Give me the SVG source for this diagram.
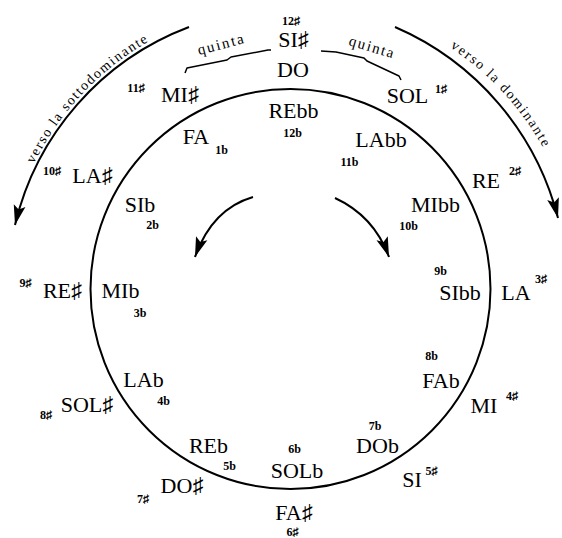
<svg xmlns="http://www.w3.org/2000/svg" width="562" height="538" viewBox="0 0 562 538">
<style>
text{font-family:"Liberation Serif","DejaVu Serif",serif;fill:#000}
.n{font-size:22px;text-anchor:middle}
.s{font-size:12px;font-weight:bold;text-anchor:middle}
.q{font-size:14px}
.qq{font-size:15px}
.line{fill:none;stroke:#000;stroke-width:2}
.br{fill:none;stroke:#000;stroke-width:1.5;stroke-linejoin:round}
</style>
<defs>
<marker id="ah" markerWidth="22" markerHeight="14" refX="20" refY="7" orient="auto" markerUnits="userSpaceOnUse">
<path d="M0,1 L20,7 L0,13 L4,7 Z" fill="#000"/>
</marker>
<path id="tpL" d="M33.8,164.1 A285,285 0 0 1 149.7,40.9"/>
<path id="tpR" d="M450,47.2 A290,290 0 0 1 543.6,148.4"/>
</defs>
<rect width="562" height="538" fill="#fff"/>
<g id="circle"><circle cx="290.5" cy="289" r="200" class="line"/></g>
<g id="connectors">
<path class="line" d="M189,27 A281,281 0 0 0 15,225" marker-end="url(#ah)"/>
<path class="line" d="M395,27 A285,285 0 0 1 558,218" marker-end="url(#ah)"/>
<path class="line" d="M253,197 Q212,209 195,257" marker-end="url(#ah)"/>
<path class="line" d="M335,198 Q374,216 389,257" marker-end="url(#ah)"/>
<path class="br" d="M185,73 L187,68 L227,60 L231,57 L268,50 L271,50"/>
<path class="br" d="M321,51 L336,52 L364,58 L367,61 L399,76 L401,80"/>
</g>
<g id="labels">
<text class="q"><textPath href="#tpL" textLength="170" lengthAdjust="spacing">verso la sottodominante</textPath></text>
<text class="q"><textPath href="#tpR" textLength="138" lengthAdjust="spacing">verso la dominante</textPath></text>
<text class="qq" transform="translate(199,55) rotate(-14.6)" textLength="47" lengthAdjust="spacing">quinta</text>
<text class="qq" transform="translate(348,45) rotate(16.5)" textLength="46" lengthAdjust="spacing">quinta</text>
</g>
<g id="n-SIs-DO"><text class="s" x="291" y="25">12♯</text><text class="n" x="293.5" y="47">SI♯</text><text class="n" x="293" y="77">DO</text></g>
<g id="n-REbb"><text class="n" x="293.5" y="118">REbb</text><text class="s" x="292.5" y="137">12b</text></g>
<g id="n-MIs"><text class="s" x="136" y="92">11♯</text><text class="n" x="180" y="102">MI♯</text></g>
<g id="n-FA"><text class="n" x="196" y="144">FA</text><text class="s" x="221.5" y="154">1b</text></g>
<g id="n-SOL"><text class="n" x="407.5" y="103">SOL</text><text class="s" x="441" y="93">1♯</text></g>
<g id="n-LAbb"><text class="n" x="381" y="147">LAbb</text><text class="s" x="349.5" y="166">11b</text></g>
<g id="n-LAs"><text class="s" x="52" y="175">10♯</text><text class="n" x="92.5" y="183">LA♯</text></g>
<g id="n-RE"><text class="n" x="486" y="188">RE</text><text class="s" x="515" y="175">2♯</text></g>
<g id="n-MIbb"><text class="n" x="435.5" y="212">MIbb</text><text class="s" x="408.5" y="230">10b</text></g>
<g id="n-SIb"><text class="n" x="140" y="212">SIb</text><text class="s" x="152.5" y="229">2b</text></g>
<g id="n-REs"><text class="s" x="25.5" y="287">9♯</text><text class="n" x="62.5" y="298">RE♯</text></g>
<g id="n-MIb"><text class="n" x="120.5" y="298">MIb</text><text class="s" x="140" y="317">3b</text></g>
<g id="n-SIbb"><text class="s" x="440.5" y="275">9b</text><text class="n" x="460" y="300">SIbb</text></g>
<g id="n-LA"><text class="n" x="516" y="300">LA</text><text class="s" x="541" y="283">3♯</text></g>
<g id="n-LAb"><text class="n" x="143.5" y="387">LAb</text><text class="s" x="163.5" y="405">4b</text></g>
<g id="n-SOLs"><text class="s" x="46" y="419">8♯</text><text class="n" x="87" y="412">SOL♯</text></g>
<g id="n-FAb"><text class="s" x="431.5" y="360">8b</text><text class="n" x="441" y="388">FAb</text></g>
<g id="n-MI"><text class="n" x="484" y="413">MI</text><text class="s" x="512" y="400">4♯</text></g>
<g id="n-REb"><text class="n" x="208.5" y="453">REb</text><text class="s" x="229.5" y="470">5b</text></g>
<g id="n-DOs"><text class="s" x="143" y="503">7♯</text><text class="n" x="182" y="493">DO♯</text></g>
<g id="n-DOb"><text class="s" x="375" y="430">7b</text><text class="n" x="377.5" y="453">DOb</text></g>
<g id="n-SOLb"><text class="s" x="294.5" y="453">6b</text><text class="n" x="297" y="478">SOLb</text></g>
<g id="n-SI"><text class="n" x="412" y="487">SI</text><text class="s" x="431.5" y="475">5♯</text></g>
<g id="n-FAs"><text class="n" x="294" y="520">FA♯</text><text class="s" x="292.5" y="536">6♯</text></g>
</svg>
